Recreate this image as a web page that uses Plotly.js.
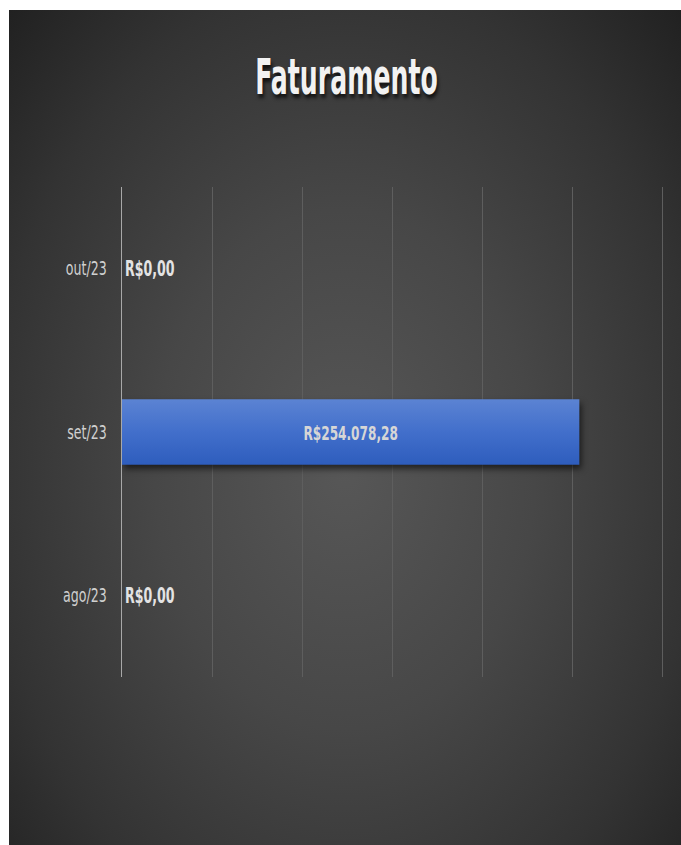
<!DOCTYPE html>
<html>
<head>
<meta charset="utf-8">
<script src="https://cdn.plot.ly/plotly-3.0.1.min.js"></script>
<style>
  html, body { margin:0; padding:0; background:#ffffff; }
  #wrap { position:relative; width:681px; height:845px; overflow:hidden; }
  #bg { position:absolute; left:9px; top:10px; width:672px; height:835px;
        background: radial-gradient(ellipse farthest-corner at 50% 55%, #575757 0%, #474747 40%, #333333 75%, #212121 100%); }
  #chart { position:absolute; left:0; top:0; width:681px; height:845px; }
  #chart .gtitle { text-shadow: 2px 3px 4px rgba(0,0,0,0.7); }
  #chart .barlayer path { filter: drop-shadow(2px 4px 3px rgba(0,0,0,0.6)); }
</style>
</head>
<body>
<div id="wrap">
  <div id="bg"></div>
  <div id="chart"></div>
</div>
<script>
const categories = ['ago/23', 'set/23', 'out/23'];
const values = [0, 254078.28, 0];
const textPositions = ['outside', 'inside', 'outside'];
const chartTitle = 'Faturamento';

const FONT = '"DejaVu Sans Condensed", "Liberation Sans Narrow", "Arial Narrow", sans-serif';

const trace = {
  type: 'bar',
  orientation: 'h',
  y: categories,
  x: values,
  width: 0.4,
  marker: {
    color: '#3f6dc9',
    line: { width: 0 }
  },
  texttemplate: 'R$%{x:,.2f}',
  textposition: textPositions,
  insidetextanchor: 'middle',
  cliponaxis: false,
  textfont: { family: FONT, size: 14, color: '#dedede', weight: 'bold' },
  insidetextfont: { family: FONT, size: 13.5, color: '#d6d6d6', weight: 'bold' },
  outsidetextfont: { family: FONT, size: 14, color: '#e3e3e3', weight: 'bold' },
  hoverinfo: 'none'
};

const layout = {
  width: 681,
  height: 845,
  margin: { l: 122, r: 10, t: 187, b: 168, pad: 0 },
  paper_bgcolor: 'rgba(0,0,0,0)',
  plot_bgcolor: 'rgba(0,0,0,0)',
  separators: ',.',
  showlegend: false,
  title: {
    text: chartTitle,
    x: 346.5 / 681,
    xanchor: 'center',
    y: 1 - 77 / 845,
    yanchor: 'middle',
    font: { family: FONT, size: 28, color: '#f2f2f2', weight: 'bold' }
  },
  xaxis: {
    range: [0, 305000],
    dtick: 50000,
    tick0: 0,
    showticklabels: false,
    showgrid: true,
    gridcolor: '#5e5e5e',
    gridwidth: 1,
    zeroline: false,
    showline: false,
    ticks: '',
    fixedrange: true
  },
  yaxis: {
    type: 'category',
    categoryorder: 'array',
    categoryarray: categories,
    showline: true,
    linecolor: '#a8a8a8',
    linewidth: 1.5,
    showgrid: false,
    zeroline: false,
    ticks: '',
    ticklabelstandoff: 11,
    tickfont: { family: FONT, size: 14, color: '#d0d0d0' },
    fixedrange: true
  }
};

function stretchY(el, sy) {
  const bb = el.getBBox();
  const cy = bb.y + bb.height / 2;
  const prev = el.getAttribute('transform') || '';
  el.setAttribute('transform', prev + ' translate(0,' + cy + ') scale(1,' + sy + ') translate(0,' + (-cy) + ')');
}

Plotly.newPlot('chart', [trace], layout, { displayModeBar: false, staticPlot: true }).then(function (gd) {
  const svg = gd.querySelector('.main-svg');
  const ns = 'http://www.w3.org/2000/svg';
  let defs = svg.querySelector('defs');
  if (!defs) { defs = document.createElementNS(ns, 'defs'); svg.insertBefore(defs, svg.firstChild); }
  const lg = document.createElementNS(ns, 'linearGradient');
  lg.setAttribute('id', 'barGrad');
  lg.setAttribute('x1', '0'); lg.setAttribute('y1', '0');
  lg.setAttribute('x2', '0'); lg.setAttribute('y2', '1');
  [['0', '#5b83d3'], ['0.5', '#426fcb'], ['1', '#2e5dbd']].forEach(function (s) {
    const st = document.createElementNS(ns, 'stop');
    st.setAttribute('offset', s[0]);
    st.setAttribute('stop-color', s[1]);
    lg.appendChild(st);
  });
  defs.appendChild(lg);
  gd.querySelectorAll('.barlayer .point path').forEach(function (p) {
    p.style.fill = 'url(#barGrad)';
  });
  // Reference text is tall and narrow: stretch vertically
  gd.querySelectorAll('.gtitle').forEach(function (t) { stretchY(t, 1.75); });
  gd.querySelectorAll('.ytick text').forEach(function (t) { stretchY(t, 1.35); });
  gd.querySelectorAll('.barlayer text').forEach(function (t) { stretchY(t, 1.5); });
});
</script>
</body>
</html>
